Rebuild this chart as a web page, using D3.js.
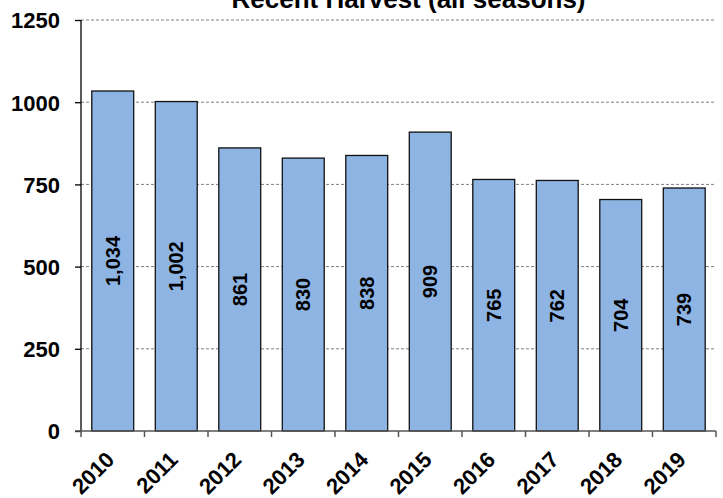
<!DOCTYPE html>
<html>
<head>
<meta charset="utf-8">
<script src="https://cdn.jsdelivr.net/npm/d3@7"></script>
<style>
  body { margin: 0; background: #fff; }
  text { font-family: "Liberation Sans", Arial, sans-serif; font-weight: bold; fill: #000; }
</style>
</head>
<body>
<div id="my_chart"></div>
<script>
// data
var years = ["2010", "2011", "2012", "2013", "2014", "2015", "2016", "2017", "2018", "2019"];
var harvest = [1034, 1002, 861, 830, 838, 909, 765, 762, 704, 739];
var yTicks = [0, 250, 500, 750, 1000, 1250];
var title = "Recent Harvest (all seasons)";

var margin = {top: 20, right: 7, bottom: 67, left: 81},
    width = 723 - margin.left - margin.right,
    height = 498 - margin.top - margin.bottom;

var svg = d3.select("#my_chart")
  .append("svg")
    .attr("width", 723)
    .attr("height", 498)
  .append("g")
    .attr("transform", "translate(" + margin.left + "," + margin.top + ")");

var x = d3.scaleBand()
  .range([0, width])
  .domain(years)
  .paddingInner(0.34)
  .paddingOuter(0.17);

var y = d3.scaleLinear()
  .domain([0, 1250])
  .range([height, 0]);

// gridlines
svg.selectAll(".grid")
  .data(yTicks.filter(function(d) { return d > 0; }))
  .enter()
  .append("line")
    .attr("x1", 0)
    .attr("x2", width)
    .attr("y1", function(d) { return y(d); })
    .attr("y2", function(d) { return y(d); })
    .attr("stroke", "#808080")
    .attr("stroke-width", 1)
    .attr("stroke-dasharray", "3,2");

// bars
svg.selectAll(".bar")
  .data(harvest)
  .enter()
  .append("rect")
    .attr("x", function(d, i) { return x(years[i]); })
    .attr("y", function(d) { return y(d); })
    .attr("width", x.bandwidth())
    .attr("height", function(d) { return height - y(d); })
    .attr("fill", "#8EB4E3")
    .attr("stroke", "#111")
    .attr("stroke-width", 1.3);

// value labels, rotated inside bars
svg.selectAll(".lab")
  .data(harvest)
  .enter()
  .append("text")
    .attr("transform", function(d, i) {
      return "translate(" + (x(years[i]) + x.bandwidth() / 2) + "," + ((y(d) + height) / 2) + ")rotate(-90)";
    })
    .attr("text-anchor", "middle")
    .attr("dy", "0.36em")
    .style("font-size", "20px")
    .text(function(d) { return d3.format(",")(d); });

// y axis
var yAxis = svg.append("g")
  .call(d3.axisLeft(y).tickValues(yTicks).tickFormat(d3.format("d")).tickSize(6).tickPadding(15));
yAxis.select(".domain").attr("stroke", "#000").attr("stroke-width", 1.3).attr("d", "M0,0V" + height);
yAxis.selectAll(".tick line").attr("stroke", "#000").attr("stroke-width", 1.3);
yAxis.selectAll("text").style("font-size", "22px").attr("dy", "0.36em");

// x axis: ticks on band boundaries
var xAxis = svg.append("g")
  .attr("transform", "translate(0," + height + ")");
xAxis.append("line")
  .attr("x1", -6).attr("x2", width)
  .attr("stroke", "#555").attr("stroke-width", 1.5);
xAxis.selectAll(".xt")
  .data(d3.range(years.length + 1))
  .enter()
  .append("line")
    .attr("x1", function(i) { return i * x.step(); })
    .attr("x2", function(i) { return i * x.step(); })
    .attr("y1", 0).attr("y2", 6)
    .attr("stroke", "#555").attr("stroke-width", 1.5);
xAxis.selectAll(".xl")
  .data(years)
  .enter()
  .append("text")
    .attr("transform", function(d) {
      return "translate(" + (x(d) + x.bandwidth() / 2 + 3) + ",30)rotate(-45)";
    })
    .attr("text-anchor", "end")
    .style("font-size", "22px")
    .text(function(d) { return d; });

// title
svg.append("text")
  .attr("x", width / 2 + 10)
  .attr("y", -12)
  .attr("text-anchor", "middle")
  .style("font-size", "26px")
  .text(title);
</script>
</body>
</html>
